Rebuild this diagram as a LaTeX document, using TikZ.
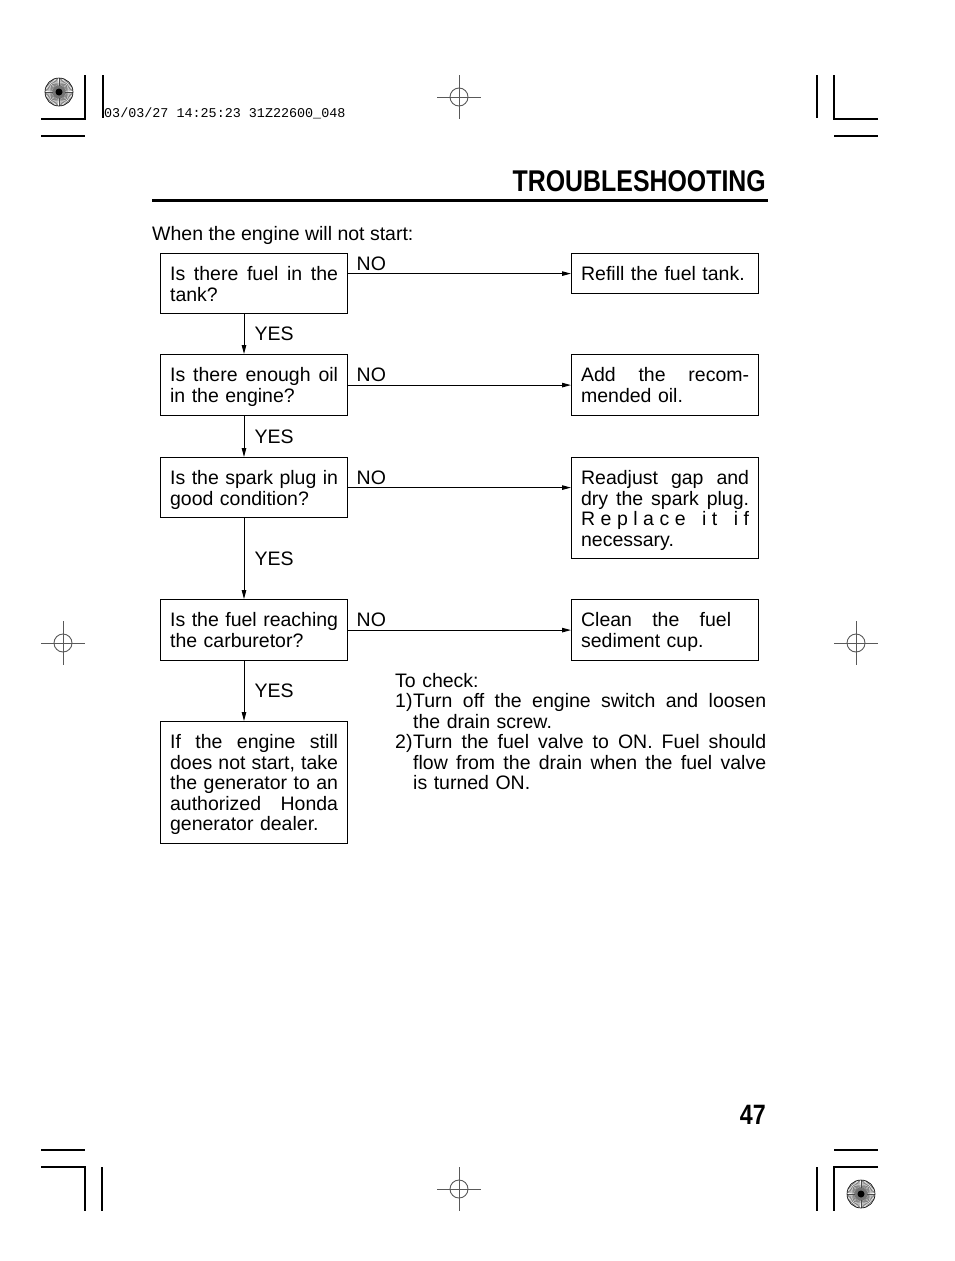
\documentclass[tikz,border=0pt]{standalone}
\usepackage{fontspec}
\setmainfont{Liberation Sans}
\newfontfamily\stampfont{Liberation Mono}
\usepackage{graphicx}
\usetikzlibrary{arrows.meta}
\newcommand\jbox[2]{{\spaceskip=0.278em plus 1fil\xspaceskip=0.278em plus 1fil\makebox[#1][s]{#2}}}
\newcommand\jline[1]{\jbox{168pt}{#1}}
\newcommand\bodyfont{\fontsize{19.5}{20.5}\selectfont}
\tikzset{
  qbox/.style={draw, line width=1.2pt, anchor=north west, text width=168pt, align=left,
    inner xsep=9.5pt, inner ysep=0pt, text height=27pt, font=\bodyfont},
  arr/.style={line width=1pt, -{Triangle[length=9pt,width=4.5pt]}},
  nolab/.style={anchor=base west, inner sep=0pt, xshift=8pt, yshift=3.5pt, font=\bodyfont},
  yeslab/.style={anchor=west, inner sep=0pt, xshift=10pt, font=\bodyfont},
  cropline/.style={line width=1.3pt},
  regline/.style={line width=0.9pt, draw=black!65},
}
\begin{document}
\begin{tikzpicture}[x=1pt,y=-1pt]
\useasboundingbox (0,0) rectangle (954,1261);

% crop marks
\draw[cropline] (41,119) -- (85,119) -- (85,75);
\draw[cropline] (41,136) -- (85,136);
\draw[cropline] (103,75) -- (103,118);
\draw[cropline] (878,119) -- (834,119) -- (834,75);
\draw[cropline] (834,136) -- (878,136);
\draw[cropline] (817,75) -- (817,118);
\draw[cropline] (41,1167) -- (85,1167) -- (85,1211);
\draw[cropline] (41,1150) -- (85,1150);
\draw[cropline] (102,1167) -- (102,1211);
\draw[cropline] (878,1167) -- (834,1167) -- (834,1211);
\draw[cropline] (834,1150) -- (878,1150);
\draw[cropline] (817,1167) -- (817,1211);

% registration crosshairs
\foreach \cx/\cy in {459/97, 459/1189, 63/643, 856/643}{
  \draw[regline] (\cx-22,\cy) -- (\cx+22,\cy);
  \draw[regline] (\cx,\cy-22) -- (\cx,\cy+22);
  \draw[regline] (\cx,\cy) circle[radius=9pt];
}
% sunburst targets
\foreach \cx/\cy in {59/92, 861/1194}{
  \foreach \a in {0,6,...,354}{
    \draw[line width=0.4pt, black!70] (\cx,\cy) -- ++(\a:14);
  }
  \draw[line width=0.6pt] (\cx,\cy) circle[radius=14pt];
  \fill[black!55] (\cx,\cy) circle[radius=6pt];
  \fill[black] (\cx,\cy) circle[radius=3.5pt];
}

% stamp
\node[anchor=base west, inner sep=0pt] (stamp) at (104,117)
  {\stampfont\fontsize{13.4}{14}\selectfont 03/03/27 14:25:23 31Z22600\_048};

% header
\node[anchor=base east, inner sep=0pt] (title) at (766,191)
  {\scalebox{0.83}[1]{\fontsize{30}{30}\selectfont\bfseries TROUBLESHOOTING}};
\draw[line width=3pt] (152,200) -- (768,200);

\node[anchor=base west, inner sep=0pt, font=\bodyfont] (intro) at (152,240)
  {When the engine will not start:};

% question boxes
\node[qbox, text depth=33pt] (q1) at (160,253) {\jline{Is there fuel in the}\\tank?};
\node[qbox, text depth=34pt] (q2) at (160,354) {\jline{Is there enough oil}\\in the engine?};
\node[qbox, text depth=33pt] (q3) at (160,457) {\jline{Is the spark plug in}\\good condition?};
\node[qbox, text depth=34pt] (q4) at (160,599) {\jline{Is the fuel reaching}\\the carburetor?};
\node[qbox, text depth=95pt] (q5) at (160,721) {\jline{If the engine still}\\\jline{does not start, take}\\\jline{the generator to an}\\\jline{authorized Honda}\\generator dealer.};

% remedy boxes
\node[qbox, text depth=13pt] (r1) at (571,253) {Refill the fuel tank.};
\node[qbox, text depth=34pt] (r2) at (571,354) {\jline{Add the recom-}\\mended oil.};
\node[qbox, text depth=74pt] (r3) at (571,457) {\jline{Readjust gap and}\\\jline{dry the spark plug.}\\\makebox[168pt][s]{R\hfill e\hfill p\hfill l\hfill a\hfill c\hfill e\hfill\hfill\hfill i\hfill t\hfill\hfill\hfill i\hfill f}\\necessary.};
\node[qbox, text depth=34pt] (r4) at (571,599) {\jbox{150pt}{Clean the fuel}\\sediment cup.};

% NO arrows
\draw[arr] (r1.west -| q1.east) node[nolab]{NO} -- (r1.west);
\draw[arr] (q2.east) node[nolab]{NO} -- (q2.east -| r2.west);
\draw[arr] (q3.east) node[nolab]{NO} -- (q3.east -| r3.west);
\draw[arr] (q4.east) node[nolab]{NO} -- (q4.east -| r4.west);

% YES arrows
\draw[arr] ([xshift=84pt]q1.south west) -- ([xshift=84pt]q2.north west) node[yeslab, midway]{YES};
\draw[arr] ([xshift=84pt]q2.south west) -- ([xshift=84pt]q3.north west) node[yeslab, midway]{YES};
\draw[arr] ([xshift=84pt]q3.south west) -- ([xshift=84pt]q4.north west) node[yeslab, midway]{YES};
\draw[arr] ([xshift=84pt]q4.south west) -- ([xshift=84pt]q5.north west) node[yeslab, midway]{YES};

% check note
\node[anchor=north west, inner sep=0pt, text width=371pt, align=left, font=\bodyfont] (check) at (395,673)
  {To check:\\
   \makebox[18pt][l]{1)}\jbox{353pt}{Turn off the engine switch and loosen}\\
   \hspace*{18pt}the drain screw.\\
   \makebox[18pt][l]{2)}\jbox{353pt}{Turn the fuel valve to ON. Fuel should}\\
   \hspace*{18pt}\jbox{353pt}{flow from the drain when the fuel valve}\\
   \hspace*{18pt}is turned ON.};

% page number
\node[anchor=base east, inner sep=0pt] (pg) at (766,1124)
  {\scalebox{0.83}[1]{\fontsize{28}{28}\selectfont\bfseries 47}};
\end{tikzpicture}
\end{document}
